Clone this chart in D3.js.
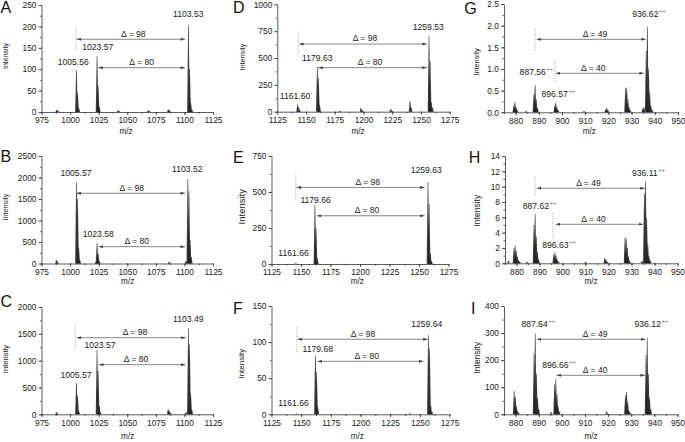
<!DOCTYPE html>
<html><head><meta charset="utf-8">
<script src="https://cdn.jsdelivr.net/npm/d3@7"></script>
<style>
body{margin:0;background:#fff;}
svg{display:block;font-family:"Liberation Sans",Arial,sans-serif;}
</style></head><body>
<svg id="c" width="685" height="442"></svg>
<script>
// ---------- tick labels ----------
const xTicksMS1 = [975, 1000, 1025, 1050, 1075, 1100, 1125];
const xTicksMS2 = [1125, 1150, 1175, 1200, 1225, 1250, 1275];
const xTicksDC  = [880, 890, 900, 910, 920, 930, 940, 950];
const yTicksA = [0, 50, 100, 150, 200, 250];
const yTicksB = [0, 500, 1000, 1500, 2000, 2500];
const yTicksC = [0, 500, 1000, 1500, 2000];
const yTicksD = [0, 250, 500, 750, 1000];
const yTicksE = [0, 250, 500, 750];
const yTicksF = [0, 50, 100, 150];
const yTicksG = [0, 0.5, 1.0, 1.5, 2.0, 2.5];
const yTicksH = [0, 2, 4, 6, 8, 10, 12, 14];
const yTicksI = [0, 100, 200, 300, 400];

// ---------- spectra (m/z, intensity) ----------
const mzA  = [988.3, 989.3, 1005.56, 1006.56, 1007.56, 1023.57, 1024.57, 1025.57, 1042.0, 1043.0, 1068.4, 1069.4, 1085.9, 1086.9, 1103.53, 1104.53, 1105.53, 1106.53];
const intA = [5, 3, 98, 45, 10, 131, 61, 12, 4, 2, 4, 2, 6, 4, 203, 100, 22, 6];

const mzB  = [988.0, 989.0, 1005.57, 1006.57, 1007.57, 1008.57, 1022.6, 1023.58, 1024.58, 1025.58, 1086.5, 1087.5, 1101.5, 1103.0, 1104.0, 1105.0, 1106.0];
const intB = [80, 40, 1890, 1510, 360, 80, 40, 484, 237, 50, 40, 20, 60, 1965, 1686, 547, 150];

const mzC  = [988.0, 989.0, 1005.57, 1006.57, 1007.57, 1023.57, 1024.57, 1025.57, 1026.57, 1085.8, 1086.8, 1087.8, 1101.5, 1103.49, 1104.49, 1105.49, 1106.49];
const intC = [40, 20, 583, 354, 60, 1204, 807, 150, 40, 93, 60, 20, 40, 1608, 1304, 384, 80];

const mzD  = [1142.7, 1143.7, 1144.7, 1159.8, 1160.8, 1161.8, 1179.6, 1197.8, 1198.8, 1223.7, 1224.7, 1240.5, 1241.5, 1257.0, 1258.0, 1259.0, 1260.0];
const intD = [69, 40, 10, 419, 311, 62, 10, 37, 15, 25, 10, 100, 40, 708, 472, 88, 40];

const mzE  = [1145.6, 1161.8, 1162.8, 1163.8, 1257.6, 1258.6, 1259.6, 1260.6];
const intE = [5, 410, 248, 40, 572, 421, 74, 20];

const mzF  = [1146.0, 1162.0, 1163.0, 1164.0, 1241.7, 1257.2, 1258.2, 1259.2, 1260.2];
const intF = [1, 81.7, 58.6, 10, 1.5, 110, 91, 12.5, 4];

const mzG  = [879.2, 879.7, 880.2, 880.7, 884.5, 887.9, 888.4, 888.9, 889.4, 896.9, 897.3, 897.8, 898.3, 909.5, 918.8, 919.3, 919.8, 927.4, 927.9, 928.4, 928.9, 929.4, 934.8, 935.3, 936.3, 936.8, 937.3, 937.8, 938.3, 938.8];
const intG = [0.15, 0.23, 0.12, 0.05, 0.03, 0.42, 0.63, 0.3, 0.1, 0.15, 0.22, 0.12, 0.05, 0.03, 0.06, 0.1, 0.05, 0.55, 0.57, 0.3, 0.12, 0.05, 0.08, 0.12, 1.42, 1.98, 1.0, 0.45, 0.15, 0.06];

const mzH  = [876.5, 878.9, 879.4, 879.9, 880.4, 880.9, 881.4, 884.5, 887.6, 888.1, 888.6, 889.1, 889.6, 896.2, 896.7, 897.2, 897.7, 898.2, 910.0, 918.4, 918.9, 919.4, 927.2, 927.7, 928.2, 928.7, 929.2, 934.6, 935.6, 936.1, 936.6, 937.1, 937.6, 938.1];
const intH = [0.3, 2.0, 2.35, 1.6, 0.9, 0.4, 0.2, 0.2, 5.0, 6.45, 3.5, 1.5, 0.5, 1.1, 1.45, 1.0, 0.5, 0.2, 0.2, 0.7, 0.5, 0.2, 3.4, 3.2, 2.0, 0.9, 0.3, 0.3, 9.1, 10.75, 6.0, 2.5, 1.0, 0.4];

const mzI  = [879.4, 879.9, 880.4, 880.9, 881.4, 888.0, 888.5, 889.0, 889.5, 890.0, 895.4, 896.9, 897.4, 897.9, 898.4, 898.9, 919.4, 927.5, 928.0, 928.5, 929.0, 929.5, 936.4, 936.9, 937.4, 937.9, 938.4];
const intI = [86, 65, 30, 12, 4, 225, 298, 150, 60, 20, 8, 110, 130, 75, 30, 10, 10, 70, 82, 45, 15, 5, 220, 283, 150, 60, 20];

// ---------- annotations ----------
const labelsA = [{t:"1005.56", x:1002.8, y:116}, {t:"1023.57", x:1024.2, y:152}, {t:"1103.53", x:1103.4, y:229}];
const arrowsA = [{x1:1005.8, x2:1100.5, y:170, t:"\u0394 = 98", tx:1055.3}, {x1:1024.7, x2:1100.5, y:103.5, t:"\u0394 = 80", tx:1062.6}];
const dotsA   = [{x:1005.2, y1:145, y2:201}];

const labelsB = [{t:"1005.57", x:1005.2, y:2112}, {t:"1023.58", x:1024.7, y:679}, {t:"1103.52", x:1102.5, y:2191}];
const arrowsB = [{x1:1005.8, x2:1100.5, y:1633, t:"\u0394 = 98", tx:1053.9}, {x1:1025, x2:1100.5, y:391, t:"\u0394 = 80", tx:1058.3}];
const dotsB   = [];

const labelsC = [{t:"1005.57", x:1005.2, y:727}, {t:"1023.57", x:1026.2, y:1286}, {t:"1103.49", x:1103.4, y:1771}];
const arrowsC = [{x1:1005.8, x2:1101.1, y:1428, t:"\u0394 = 98", tx:1056.8}, {x1:1025.3, x2:1101, y:925, t:"\u0394 = 80", tx:1057.7}];
const dotsC   = [{x:1004.5, y1:1204, y2:1689}];

const labelsD = [{t:"1161.60", x:1140.4, y:149}, {t:"1179.63", x:1159.8, y:503}, {t:"1259.53", x:1256.4, y:791}];
const arrowsD = [{x1:1144.1, x2:1255, y:630, t:"\u0394 = 98", tx:1201.3}, {x1:1160.7, x2:1255, y:410, t:"\u0394 = 80", tx:1205.7}];
const dotsD   = [{x:1143.3, y1:540, y2:750}];

const labelsE = [{t:"1161.66", x:1143.7, y:74}, {t:"1179.66", x:1162.4, y:444}, {t:"1259.63", x:1256.1, y:653}];
const arrowsE = [{x1:1146.2, x2:1254.8, y:532, t:"\u0394 = 98", tx:1206.6}, {x1:1163.5, x2:1254.8, y:335, t:"\u0394 = 80", tx:1206}];
const dotsE   = [{x:1145.6, y1:444, y2:623}];

const labelsF = [{t:"1161.66", x:1143.6, y:15.6}, {t:"1179.68", x:1164, y:91}, {t:"1259.64", x:1255.8, y:125.5}];
const arrowsF = [{x1:1147, x2:1256.6, y:104, t:"\u0394 = 98", tx:1202.1}, {x1:1163.8, x2:1253, y:73.4, t:"\u0394 = 80", tx:1205.3}];
const dotsF   = [{x:1146.4, y1:86, y2:123}];

const labelsG = [{t:"887.56", z:"++", x:887.4, y:0.92}, {t:"896.57", z:"++", x:896.85, y:0.42}, {t:"936.62", z:"++", x:935.9, y:2.27}];
const arrowsG = [{x1:889.1, x2:936.1, y:1.685, t:"\u0394 = 49", tx:914.2}, {x1:897.4, x2:935.3, y:0.9, t:"\u0394 = 40", tx:913.5}];
const dotsG   = [{x:888.4, y1:1.44, y2:1.94}, {x:897, y1:0.71, y2:1.21}];

const labelsH = [{t:"887.62", z:"++", x:888.4, y:7.48}, {t:"896.63", z:"++", x:896.9, y:2.39}, {t:"936.11", z:"++", x:935.8, y:11.74}];
const arrowsH = [{x1:888.8, x2:935.8, y:9.79, t:"\u0394 = 49", tx:911.3}, {x1:897, x2:935, y:5.09, t:"\u0394 = 40", tx:913.5}];
const dotsH   = [{x:888.1, y1:8.9, y2:11.5}, {x:895.8, y1:3.47, y2:6.73}];

const labelsI = [{t:"887.64", z:"++", x:888.2, y:332}, {t:"896.66", z:"++", x:897.2, y:183}, {t:"936.12", z:"++", x:937.1, y:332}];
const arrowsI = [{x1:889.2, x2:936.2, y:277, t:"\u0394 = 49", tx:914.4}, {x1:897.7, x2:935.9, y:144, t:"\u0394 = 40", tx:914.4}];
const dotsI   = [];

// ---------- layout ----------
const panels = [
  {id:"A", mz:mzA, v:intA, xt:xTicksMS1, yt:yTicksA, xd:[975,1125], xr:[41.5,213], yd:[0,250], yr:[112,5], lab:labelsA, arr:arrowsA, dot:dotsA, L:[0.5,13.3], I:[6,56,7], M:[126,130.7]},
  {id:"B", mz:mzB, v:intB, xt:xTicksMS1, yt:yTicksB, xd:[975,1125], xr:[41.5,213], yd:[0,2500], yr:[263.5,156], lab:labelsB, arr:arrowsB, dot:dotsB, L:[0.5,161.5], I:[5,207,7.2], M:[127.7,281]},
  {id:"C", mz:mzC, v:intC, xt:xTicksMS1, yt:yTicksC, xd:[975,1125], xr:[41.5,213], yd:[0,2000], yr:[414.3,307], lab:labelsC, arr:arrowsC, dot:dotsC, L:[0.5,306.5], I:[5,359,7.6], M:[127.7,436.3]},
  {id:"D", mz:mzD, v:intD, xt:xTicksMS2, yt:yTicksD, xd:[1125,1275], xr:[277.3,449.7], yd:[0,1000], yr:[111.7,4.3], lab:labelsD, arr:arrowsD, dot:dotsD, L:[233,13.3], I:[242,57,7.2], M:[358,130.7]},
  {id:"E", mz:mzE, v:intE, xt:xTicksMS2, yt:yTicksE, xd:[1125,1275], xr:[271.5,448.5], yd:[0,750], yr:[264,156], lab:labelsE, arr:arrowsE, dot:dotsE, L:[233,163.3], I:[241.3,206.7,9.5], M:[357.3,281]},
  {id:"F", mz:mzF, v:intF, xt:xTicksMS2, yt:yTicksF, xd:[1125,1275], xr:[271.5,449.5], yd:[0,150], yr:[414.3,306], lab:labelsF, arr:arrowsF, dot:dotsF, L:[233,313.7], I:[241.3,363.7,8], M:[357.3,436.3]},
  {id:"G", mz:mzG, v:intG, xt:xTicksDC, yt:yTicksG, xd:[875,950], xr:[504,678], yd:[0,2.5], yr:[112.3,4], lab:labelsG, arr:arrowsG, dot:dotsG, L:[464.3,14], I:[476.7,62,7.3], M:[589.3,130.7], fmt:".1f"},
  {id:"H", mz:mzH, v:intH, xt:xTicksDC, yt:yTicksH, xd:[875,950], xr:[505,677.5], yd:[0,14], yr:[263.3,156], lab:labelsH, arr:arrowsH, dot:dotsH, L:[468.7,163.3], I:[476.7,210.7,8.5], M:[591,281]},
  {id:"I", mz:mzI, v:intI, xt:xTicksDC, yt:yTicksI, xd:[875,950], xr:[504,677.5], yd:[0,400], yr:[414.3,306], lab:labelsI, arr:arrowsI, dot:dotsI, L:[471,313.7], I:[476.7,357.7,8.5], M:[591,436.3]}
];

const svg = d3.select("#c");
const defs = svg.append("defs");
defs.append("marker").attr("id","ah").attr("viewBox","0 0 6 4").attr("refX",6).attr("refY",2)
  .attr("markerWidth",4.5).attr("markerHeight",3).attr("markerUnits","userSpaceOnUse")
  .attr("orient","auto-start-reverse")
  .append("path").attr("d","M0,0L6,2L0,4Z").attr("fill","#444");

const AX = "#333", TX = "#1a1a1a";

panels.forEach(p => {
  const x = d3.scaleLinear().domain(p.xd).range(p.xr);
  const y = d3.scaleLinear().domain(p.yd).range(p.yr);
  const g = svg.append("g");

  // minor ticks
  const xs = p.xt[1] - p.xt[0], ys = p.yt[1] - p.yt[0];
  const xMinor = d3.range(p.xd[0], p.xd[1] + 1e-6, xs / 2);
  const yMinor = d3.range(p.yd[0], p.yd[1] + 1e-6, ys / 2);
  g.append("g").attr("transform", `translate(0,${p.yr[0]})`)
    .call(d3.axisBottom(x).tickValues(xMinor).tickSize(1.6).tickFormat(""))
    .call(s => s.select(".domain").remove());
  g.append("g").attr("transform", `translate(${p.xr[0]},0)`)
    .call(d3.axisLeft(y).tickValues(yMinor).tickSize(1.6).tickFormat(""))
    .call(s => s.select(".domain").remove());

  // major axes
  const xa = g.append("g").attr("transform", `translate(0,${p.yr[0]})`)
    .call(d3.axisBottom(x).tickValues(p.xt).tickSize(3).tickSizeOuter(0).tickPadding(2.5)
      .tickFormat(d3.format("d")));
  const ya = g.append("g").attr("transform", `translate(${p.xr[0]},0)`)
    .call(d3.axisLeft(y).tickValues(p.yt).tickSize(3).tickSizeOuter(0).tickPadding(2)
      .tickFormat(p.fmt ? d3.format(p.fmt) : d3.format("d")));
  g.selectAll(".domain, .tick line").attr("stroke", AX).attr("stroke-width", 0.8);
  [xa, ya].forEach(a => a.selectAll("text").attr("fill", TX).attr("font-size", 8.4)
     .attr("font-family", "'Liberation Sans', Arial, sans-serif"));

  // peaks
  const pts = p.mz.map((m, i) => ({m, v: p.v[i]}));
  const y0 = y(0);
  g.append("g").selectAll("path").data(pts).join("path")
    .attr("d", d => {
      const cx = x(d.m), yt = y(d.v);
      return `M${cx - 1.3},${y0}L${cx - 0.3},${yt}L${cx + 0.3},${yt}L${cx + 1.3},${y0}Z`;
    })
    .attr("fill", "#1c1c1c").attr("fill-opacity", 0.85);

  // dotted lines
  g.append("g").selectAll("line").data(p.dot).join("line")
    .attr("x1", d => x(d.x)).attr("x2", d => x(d.x))
    .attr("y1", d => y(d.y1)).attr("y2", d => y(d.y2))
    .attr("stroke", "#888").attr("stroke-width", 0.8).attr("stroke-dasharray", "1,1.5");

  // arrows
  const ag = g.append("g");
  ag.selectAll("line").data(p.arr).join("line")
    .attr("x1", d => x(d.x1)).attr("x2", d => x(d.x2))
    .attr("y1", d => y(d.y)).attr("y2", d => y(d.y))
    .attr("stroke", "#666").attr("stroke-width", 0.8)
    .attr("marker-start", "url(#ah)").attr("marker-end", "url(#ah)");
  ag.selectAll("text").data(p.arr).join("text")
    .attr("x", d => x(d.tx)).attr("y", d => y(d.y) - 2.6)
    .attr("text-anchor", "middle").attr("font-size", 8.6).attr("fill", TX)
    .text(d => d.t);

  // peak labels
  p.lab.forEach(d => {
    const t = g.append("text").attr("x", x(d.x)).attr("y", y(d.y)).attr("dy", "0.35em")
      .attr("text-anchor", "middle").attr("font-size", 8.6).attr("fill", TX).text(d.t);
    if (d.z) {
      const w = t.node().getComputedTextLength();
      g.append("text").attr("x", x(d.x) + w / 2 + 0.8).attr("y", y(d.y) - 1.2)
        .attr("font-size", 5.5).attr("fill", "#666").text(d.z);
    }
  });

  // panel letter, axis titles
  svg.append("text").attr("x", p.L[0]).attr("y", p.L[1]).attr("font-size", 16).attr("fill", "#111").text(p.id);
  svg.append("text").attr("transform", `translate(${p.I[0]},${p.I[1]}) rotate(-90)`)
    .attr("dy", "0.35em").attr("text-anchor", "middle").attr("font-size", p.I[2]).attr("fill", TX).text("Intensity");
  svg.append("text").attr("x", p.M[0]).attr("y", p.M[1]).attr("dy", "0.35em")
    .attr("text-anchor", "middle").attr("font-size", 8.2).attr("fill", TX).text("m/z");
});
</script>
</body></html>
